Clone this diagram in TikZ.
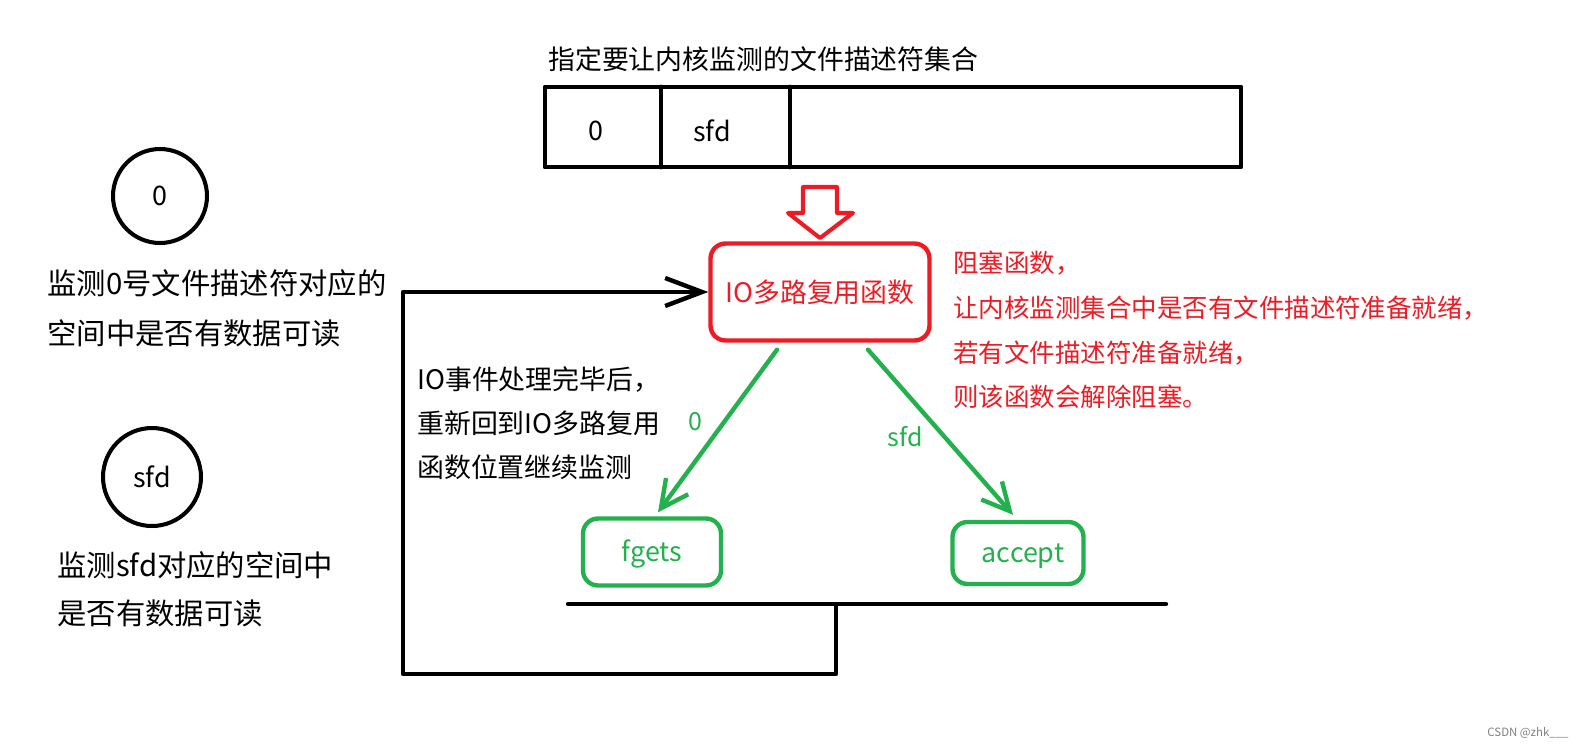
\documentclass[tikz,border=0pt]{standalone}
\usepackage{fontspec}
\setmainfont{Noto Sans CJK SC}
\usetikzlibrary{arrows.meta}
\definecolor{paintred}{RGB}{237,28,36}
\definecolor{paintgreen}{RGB}{34,177,76}

\begin{document}
\begin{tikzpicture}[x=0.02cm,y=-0.02cm,line cap=round,line join=round,
	txt/.style={font=\fontsize{15.3}{25}\selectfont,inner sep=0pt},
	fdcircle/.style={circle,draw,line width=2.3pt,inner sep=0pt,txt},
	redbox/.style={draw=paintred,rounded corners=0.3cm,line width=2.5pt,text=paintred,txt},
	greenbox/.style={draw=paintgreen,rounded corners=0.3cm,line width=2.5pt,text=paintgreen,txt},
	greenarrow/.style={draw=paintgreen,line width=2.5pt,-{Straight Barb[length=0.55cm,width=0.55cm]}},
	greenlabel/.style={text=paintgreen,font=\fontsize{14.2}{18}\selectfont,inner sep=0pt}]
	\useasboundingbox (0,0) rectangle (1583,748);
	
	% fd set
	\node[txt,anchor=west] (title) at (548,59) {指定要让内核监测的文件描述符集合};
	\draw[line width=2.8pt] (545,87) rectangle (1241,167) (661,87) -- (661,167) (790,87) -- (790,167);
	\node[txt] (set0) at (596,131) {0};
	\node[txt] (setsfd) at (712,131) {sfd};
	\draw[paintred,line width=2.3pt] (803,187) -- (837,187) -- (837,213) -- (853,213) -- (820,238) -- (788,213) -- (803,213) -- cycle;
	
	% left side
	\node[fdcircle,minimum size=1.88cm] (c0) at (160,196) {0};
	\node[txt,anchor=west,align=left,font=\fontsize{16.7}{28.4}\selectfont] (c0text) at (47,308) {监测0号文件描述符对应的\\空间中是否有数据可读};
	\node[fdcircle,minimum size=1.96cm] (csfd) at (152,477) {sfd};
	\node[txt,anchor=west,align=left,font=\fontsize{16.7}{27.2}\selectfont] (csfdtext) at (57,589) {监测sfd对应的空间中\\是否有数据可读};
	
	% select
	\node[redbox,minimum width=4.38cm,minimum height=1.94cm] (mux) at (820,292) {IO多路复用函数};
	\node[txt,anchor=west,align=left,text=paintred,font=\fontsize{14.5}{25.5}\selectfont] (muxnote) at (953,330) {阻塞函数，\\让内核监测集合中是否有文件描述符准备就绪，\\若有文件描述符准备就绪，\\则该函数会解除阻塞。};
	
	\node[greenbox,minimum width=2.76cm,minimum height=1.34cm,text height=0.5cm] (fgets) at (652,552) {fgets\hspace{0.3cm}};
	\node[greenbox,minimum width=2.62cm,minimum height=1.24cm,text height=0.5cm] (accept) at (1018,553) {\hspace{0.2cm}accept};
	\draw[greenarrow] ([xshift=-0.86cm,yshift=-0.14cm]mux.south) -- ([xshift=0.12cm,yshift=0.08cm]fgets.north);
	\draw[greenarrow] ([xshift=0.96cm,yshift=-0.14cm]mux.south) -- ([xshift=-0.1cm,yshift=0.1cm]accept.north);
	\node[greenlabel] (lab0) at (695,422) {0};
	\node[greenlabel] (labsfd) at (905,437) {sfd};
	
	% back to select
	\coordinate (barmid) at (836,604);
	\coordinate (loopcorner) at (403,674);
	\draw[line width=2.5pt] (568,604) -- (1166,604);
	\draw[line width=2.5pt,-{Straight Barb[length=0.74cm,width=0.56cm]}] (barmid) |- (loopcorner) |- (mux.west);
	\node[txt,anchor=west,align=left,font=\fontsize{15.3}{24.9}\selectfont] (backtext) at (417,423) {IO事件处理完毕后，\\重新回到IO多路复用\\函数位置继续监测};
	
	\node[text=gray,font=\fontsize{6.5}{8}\selectfont,inner sep=0pt] (mark) at (1528,733) {CSDN @zhk\_\_\_};
\end{tikzpicture}
\end{document}
